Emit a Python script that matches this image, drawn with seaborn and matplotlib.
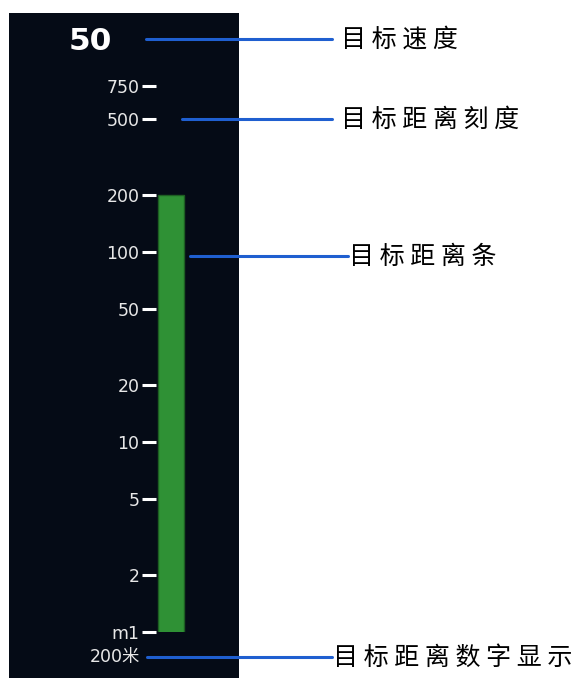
"""Target distance indicator with callout labels."""

import matplotlib.pyplot as plt
import pandas as pd
import seaborn as sns
from matplotlib.lines import Line2D
from matplotlib.patches import Rectangle

W, H = 586, 678
PANEL = "#050b16"
BLUE = "#1f5fd0"

target_speed = "50"
distance_label = "200米"
bar_category = ["目标距离"]
bar_value = [200]
tick_values = [1, 2, 5, 10, 20, 50, 100, 200, 500, 750]
tick_labels = ["m1", "2", "5", "10", "20", "50", "100", "200", "500", "750"]
callout_texts = ["目标速度", "目标距离刻度", "目标距离条", "目标距离数字显示"]


def fx(x):
    return x / W


def fy(y):
    return 1 - y / H


def main():
    sns.set_style("white")
    plt.rcParams["font.family"] = ["DejaVu Sans", "Noto Sans CJK SC"]

    fig = plt.figure(figsize=(W / 100, H / 100), dpi=100, facecolor="white")
    fig.add_artist(Rectangle((fx(9), 0), fx(239) - fx(9), fy(13),
                             transform=fig.transFigure, facecolor=PANEL,
                             edgecolor="none", zorder=0))

    # bar axes: value 1 at y=632px, 750 at y=86px
    ax = fig.add_axes([fx(156), fy(632), fx(186) - fx(156), fy(86) - fy(632)])
    ax.set_facecolor("none")
    df = pd.DataFrame({"cat": bar_category, "val": bar_value})
    sns.barplot(data=df, x="cat", y="val", ax=ax, color="#2f9135",
                saturation=1, width=0.85, edgecolor="#1d5e22", linewidth=1)
    ax.set_yscale("log")
    ax.set_ylim(1, 750)
    ax.set_xlim(-0.5, 0.5)
    ax.set_yticks(tick_values)
    ax.set_yticklabels(tick_labels)
    ax.minorticks_off()
    ax.tick_params(axis="y", colors="white", length=10, width=2.2, pad=2,
                   labelsize=12.5, left=True)
    for lab in ax.get_yticklabels():
        lab.set_color("#e8e8e8")
    ax.set_xticks([])
    ax.set_xlabel("")
    ax.set_ylabel("")
    for s in ax.spines.values():
        s.set_visible(False)

    fig.text(fx(90), fy(41), target_speed, color="white", fontsize=22.5,
             fontweight="bold", ha="center", va="center")
    fig.text(fx(140), fy(657), distance_label, color="#e8e8e8", fontsize=12.5,
             ha="right", va="center")

    callouts = [
        (146, 332, 39, 341),
        (182, 332, 119, 341),
        (190, 348, 256, 349),
        (147, 332, 657, 333),
    ]
    for (x0, x1, y, tx), txt in zip(callouts, callout_texts):
        fig.add_artist(Line2D([fx(x0), fx(x1)], [fy(y), fy(y)],
                              transform=fig.transFigure, color=BLUE, lw=2.2))
        fig.text(fx(tx), fy(y + 1), " ".join(txt), color="black", fontsize=18,
                 ha="left", va="center",
                 family=["Noto Sans CJK SC", "DejaVu Sans"])

    fig.savefig("out.png", dpi=100, facecolor="white")


if __name__ == "__main__":
    main()
